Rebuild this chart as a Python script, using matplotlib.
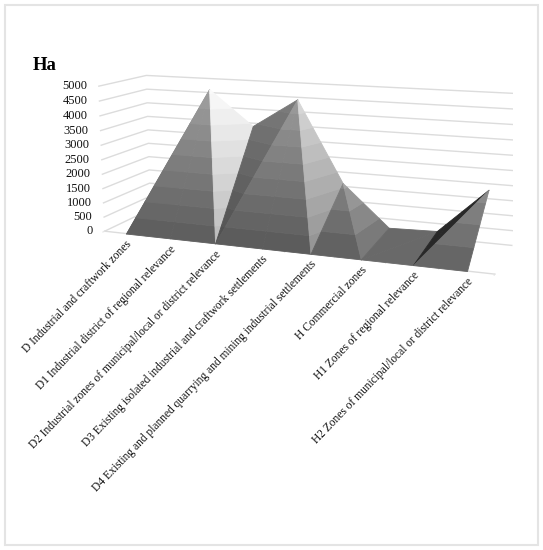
import numpy as np
import matplotlib
matplotlib.use('Agg')
import matplotlib.pyplot as plt
from matplotlib.patches import Rectangle
from mpl_toolkits.mplot3d import proj3d
from mpl_toolkits.mplot3d.art3d import Poly3DCollection

plt.rcParams['font.family'] = ['Liberation Serif', 'DejaVu Serif']

categories = ['D Industrial and craftwork zones',
              'D1 Industrial district of regional relevance',
              'D2 Industrial zones of municipal/local or district relevance',
              'D3 Existing isolated industrial and craftwork settlements',
              'D4 Existing and planned quarrying and mining industrial settlements',
              'H Commercial zones',
              'H1 Zones of regional relevance',
              'H2 Zones of municipal/local or district relevance']
front_row = [0, 0, 0, 0, 0, 0, 0, 0]
back_row = [0, 4620, 3400, 4430, 1620, 190, 240, 1800]
z_ticks = [0, 500, 1000, 1500, 2000, 2500, 3000, 3500, 4000, 4500, 5000]

fig = plt.figure(figsize=(5.43, 5.5), dpi=100)
ax = fig.add_axes([0, 0, 1, 1], projection='3d')
ax.set_xlim(-0.5, 7.5, view_margin=0)
ax.set_ylim(0, 1, view_margin=0)
ax.set_zlim(0, 5000, view_margin=0)
ax.computed_zorder = False
ax.set_axis_off()

# view found by fitting the floor and wall corners of the reference
elev, azim, roll, focal = 11.8978, -69.6877, -0.1152, 0.4327
ax.view_init(elev, azim, roll)
ax.set_proj_type('persp', focal_length=focal)
ax.set_box_aspect((4.7002, 1.1328, 1.7606))
size, cx, cy = 429.9758, 297.8033, 170.9221
ax.set_position([(cx - size / 2) / 543, (550 - cy - size / 2) / 550, size / 543, size / 550])
ax.apply_aspect()


def to_pixels(x, y, z):
    xs, ys, _ = proj3d.proj_transform(np.array([x], float), np.array([y], float), np.array([z], float), ax.get_proj())
    d = ax.transData.transform((xs[0], ys[0]))
    return d[0], d[1]


for z in z_ticks:
    ax.plot([-0.5, -0.5, 7.5], [0, 1, 1], [z, z, z], color='#dcdcdc', lw=1, zorder=1)
ax.plot([-0.5, 7.5], [0, 0], [0, 0], color='#dcdcdc', lw=1, zorder=1)
for i in range(9):
    ax.plot([i - 0.5, i - 0.5], [0, -0.035], [0, 0], color='#e4e4e4', lw=0.8, zorder=1)

# (row, category) corners of each triangle, grey at bottom band, grey added per band
faces = [((1, 0), (1, 1), (0, 0), 95, 7.5),
         ((0, 0), (0, 1), (1, 1), 95, 7.5),
         ((0, 1), (0, 2), (1, 1), 95, 7.5),
         ((1, 1), (0, 2), (1, 2), 190, 7),
         ((0, 2), (1, 2), (1, 3), 82, 5),
         ((0, 2), (0, 3), (1, 3), 92, 7.5),
         ((0, 3), (0, 4), (1, 3), 92, 7.5),
         ((1, 3), (0, 4), (1, 4), 150, 8),
         ((0, 4), (0, 5), (1, 4), 98, 12),
         ((1, 4), (0, 5), (1, 5), 122, 14),
         ((0, 5), (0, 6), (1, 6), 105, 0),
         ((0, 5), (1, 5), (1, 6), 105, 0),
         ((0, 6), (1, 6), (1, 7), 40, 0),
         ((0, 6), (0, 7), (1, 7), 102, 12)]


def corner(c):
    row, i = c
    return (i, row, back_row[i] if row else front_row[i])


def clip(poly, lo, hi):
    for sign, lim in ((1, lo), (-1, hi)):
        out = []
        for a, b in zip(poly, poly[1:] + poly[:1]):
            da, db = sign * (a[2] - lim), sign * (b[2] - lim)
            if da >= 0:
                out.append(a)
            if da * db < 0:
                t = da / (da - db)
                out.append(tuple(a[n] + t * (b[n] - a[n]) for n in range(3)))
        poly = out
        if not poly:
            return []
    return poly


zo = 2
for a, b, c, base, step in faces:
    tri = [corner(a), corner(b), corner(c)]
    for band in range(10):
        piece = clip(tri, z_ticks[band], z_ticks[band + 1])
        if len(piece) < 3:
            continue
        g = min(base + band * step, 250) / 255
        coll = Poly3DCollection([piece], facecolors=[(g, g, g)], edgecolors=[(g, g, g)], linewidths=0.6)
        coll.set_zorder(zo)
        ax.add_collection3d(coll)
        zo += 1

for z in z_ticks:
    px, py = to_pixels(-0.5, 0, z)
    fig.text((px - 12) / 543, py / 550, str(z), ha='right', va='center', fontsize=9, color='#111111')
for i, name in enumerate(categories):
    px, py = to_pixels(i, 0, 0)
    fig.text((px + 4) / 543, (py - 9) / 550, name, ha='right', va='center', rotation=46, rotation_mode='anchor',
             fontsize=8.3, color='#111111')

fig.text(33 / 543, 1 - 70 / 550, 'Ha', fontsize=13.5, fontweight='bold')
fig.add_artist(Rectangle((4.5 / 543, 1 - 545 / 550), 533.5 / 543, 540 / 550, fill=False, edgecolor='#e4e4e4', lw=1.5,
                         transform=fig.transFigure))
fig.savefig('out.png', dpi=100)
